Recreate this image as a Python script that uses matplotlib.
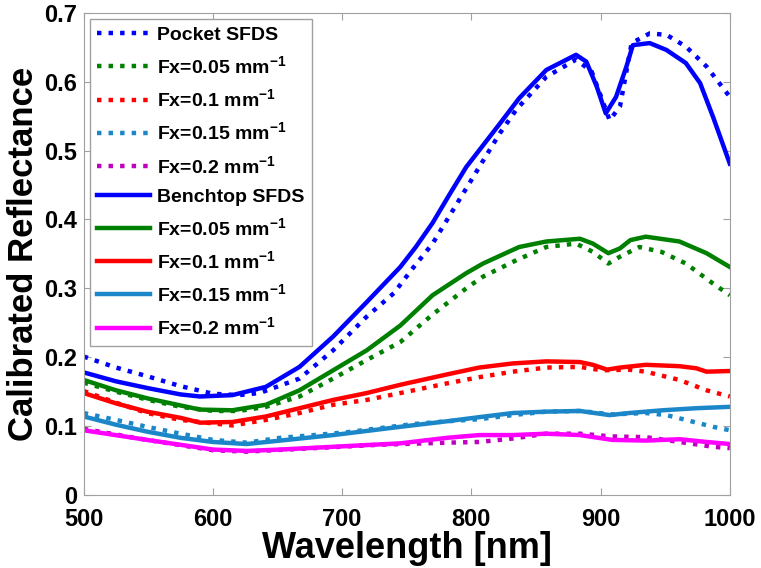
import matplotlib
matplotlib.use("Agg")
import matplotlib.pyplot as plt

plt.rcParams['font.family'] = ['Liberation Sans', 'DejaVu Sans']
plt.rcParams['font.weight'] = 'bold'
plt.rcParams['mathtext.fontset'] = 'custom'
plt.rcParams['mathtext.rm'] = 'Liberation Sans:bold'
plt.rcParams['mathtext.bf'] = 'Liberation Sans:bold'
plt.rcParams['mathtext.default'] = 'bf'

# Pocket SFDS (dotted)
wl_pocket = [500, 525, 550, 575, 600, 620, 636, 667, 693, 719, 740, 755, 770, 783, 796, 809, 822, 835, 858, 881,
             893, 900, 907, 915, 924, 938, 951, 966, 982, 1000]
pocket = [0.201, 0.185, 0.172, 0.158, 0.147, 0.145, 0.148, 0.169, 0.210, 0.259, 0.293, 0.330, 0.365, 0.405, 0.445,
          0.485, 0.525, 0.560, 0.607, 0.632, 0.615, 0.580, 0.544, 0.564, 0.656, 0.670, 0.668, 0.651, 0.622, 0.578]

wl_p05 = [500, 525, 550, 575, 600, 620, 641, 667, 693, 719, 745, 770, 796, 809, 835, 858, 881, 894, 906, 915, 930,
          947, 966, 987, 1000]
p05 = [0.163, 0.150, 0.138, 0.128, 0.122, 0.122, 0.128, 0.143, 0.169, 0.196, 0.222, 0.262, 0.300, 0.317, 0.341,
       0.360, 0.365, 0.353, 0.336, 0.346, 0.360, 0.353, 0.336, 0.307, 0.290]

wl_p10 = [500, 525, 549, 575, 615, 641, 667, 693, 719, 745, 781, 806, 832, 858, 884, 901, 922, 935, 961, 982, 1000]
p10 = [0.151, 0.134, 0.119, 0.109, 0.101, 0.109, 0.119, 0.131, 0.138, 0.148, 0.162, 0.171, 0.179, 0.185, 0.186,
       0.181, 0.182, 0.179, 0.167, 0.152, 0.143]

wl_p15 = [500, 525, 549, 575, 600, 626, 652, 678, 703, 729, 755, 781, 806, 832, 858, 884, 909, 935, 951, 966,
          987, 1000]
p15 = [0.119, 0.109, 0.099, 0.089, 0.080, 0.076, 0.083, 0.087, 0.091, 0.097, 0.103, 0.107, 0.110, 0.116, 0.121,
       0.122, 0.117, 0.119, 0.116, 0.109, 0.099, 0.094]

wl_p20 = [500, 549, 600, 626, 678, 729, 781, 806, 832, 858, 884, 909, 935, 961, 987, 1000]
p20 = [0.096, 0.080, 0.065, 0.063, 0.068, 0.073, 0.076, 0.077, 0.082, 0.089, 0.089, 0.085, 0.084, 0.077, 0.070,
       0.068]

# Benchtop SFDS (solid)
wl_bench = [500, 525, 550, 575, 590, 615, 641, 667, 693, 719, 745, 757, 770, 783, 796, 822, 837, 858, 881, 889,
            897, 904, 912, 920, 925, 938, 951, 966, 977, 987, 1000]
bench = [0.178, 0.165, 0.155, 0.146, 0.143, 0.145, 0.157, 0.186, 0.230, 0.280, 0.331, 0.360, 0.395, 0.436, 0.476,
         0.539, 0.576, 0.617, 0.639, 0.629, 0.593, 0.554, 0.578, 0.622, 0.653, 0.656, 0.646, 0.627, 0.598, 0.549,
         0.481]

wl_b05 = [500, 525, 550, 575, 590, 615, 641, 667, 693, 719, 745, 770, 796, 809, 837, 858, 884, 894, 906, 915, 923,
          935, 961, 982, 1000]
b05 = [0.167, 0.152, 0.140, 0.130, 0.124, 0.123, 0.131, 0.152, 0.181, 0.210, 0.246, 0.290, 0.322, 0.336, 0.360,
       0.368, 0.372, 0.365, 0.351, 0.358, 0.370, 0.375, 0.368, 0.351, 0.331]

wl_b10 = [500, 525, 549, 575, 590, 615, 641, 667, 693, 719, 745, 781, 806, 832, 858, 884, 894, 905, 915, 935,
          961, 974, 982, 1000]
b10 = [0.148, 0.133, 0.121, 0.112, 0.105, 0.106, 0.114, 0.126, 0.138, 0.148, 0.160, 0.175, 0.185, 0.191, 0.194,
       0.193, 0.189, 0.182, 0.185, 0.189, 0.187, 0.184, 0.179, 0.180]

wl_b15 = [500, 525, 549, 575, 600, 626, 652, 693, 745, 781, 806, 832, 858, 884, 907, 922, 948, 974, 1000]
b15 = [0.114, 0.102, 0.092, 0.083, 0.077, 0.074, 0.079, 0.087, 0.099, 0.107, 0.113, 0.119, 0.121, 0.122, 0.116,
       0.119, 0.123, 0.126, 0.128]

wl_b20 = [500, 549, 600, 626, 652, 693, 745, 781, 806, 832, 858, 884, 909, 935, 961, 982, 1000]
b20 = [0.094, 0.080, 0.066, 0.064, 0.066, 0.070, 0.075, 0.083, 0.087, 0.087, 0.089, 0.087, 0.080, 0.079, 0.081,
       0.077, 0.074]

labels_fx = ['Fx=0.05 mm$^{-1}$', 'Fx=0.1 mm$^{-1}$', 'Fx=0.15 mm$^{-1}$', 'Fx=0.2 mm$^{-1}$']

fig = plt.figure(figsize=(7.61, 5.68), dpi=100)
ax = fig.add_axes([0.110, 0.1285, 0.849, 0.849])

dot = (0, (1, 1.6))
lw_d = 3.2
lw_s = 3.2
ax.plot(wl_pocket, pocket, color='#0000ff', ls=dot, lw=lw_d, label='Pocket SFDS')
ax.plot(wl_p05, p05, color='#008000', ls=dot, lw=lw_d, label=labels_fx[0])
ax.plot(wl_p10, p10, color='#ff0000', ls=dot, lw=lw_d, label=labels_fx[1])
ax.plot(wl_p15, p15, color='#1b87c9', ls=dot, lw=lw_d, label=labels_fx[2])
ax.plot(wl_p20, p20, color='#bf00bf', ls=dot, lw=lw_d, label=labels_fx[3])
ax.plot(wl_bench, bench, color='#0000ff', lw=lw_s, label='Benchtop SFDS')
ax.plot(wl_b05, b05, color='#008000', lw=lw_s, label=labels_fx[0])
ax.plot(wl_b10, b10, color='#ff0000', lw=lw_s, label=labels_fx[1])
ax.plot(wl_b15, b15, color='#1b87c9', lw=lw_s, label=labels_fx[2])
ax.plot(wl_b20, b20, color='#ff00ff', lw=lw_s, label=labels_fx[3])

ax.set_xlim(500, 1000)
ax.set_ylim(0, 0.7)
ax.set_xticks([500, 600, 700, 800, 900, 1000])
ax.set_yticks([0, 0.1, 0.2, 0.3, 0.4, 0.5, 0.6, 0.7])
ax.set_yticklabels(['0', '0.1', '0.2', '0.3', '0.4', '0.5', '0.6', '0.7'])
ax.tick_params(direction='in', top=True, right=True, length=5, color='#a0a0a0', labelsize=17)
ax.tick_params(axis='x', pad=9)
ax.tick_params(axis='y', pad=5)
for s in ax.spines.values():
    s.set_color('#a0a0a0')
ax.set_xlabel('Wavelength [nm]', fontsize=26, fontweight='bold', labelpad=0)
ax.set_ylabel('Calibrated Reflectance', fontsize=25, fontweight='bold', labelpad=3)

leg = ax.legend(loc='upper left', fontsize=14, handlelength=2.7, labelspacing=0.58,
                fancybox=False, edgecolor='#a0a0a0', framealpha=1,
                borderaxespad=0.3, handletextpad=0.35, borderpad=0.4)
leg.get_frame().set_linewidth(1.0)

fig.savefig('out.png', dpi=100)
